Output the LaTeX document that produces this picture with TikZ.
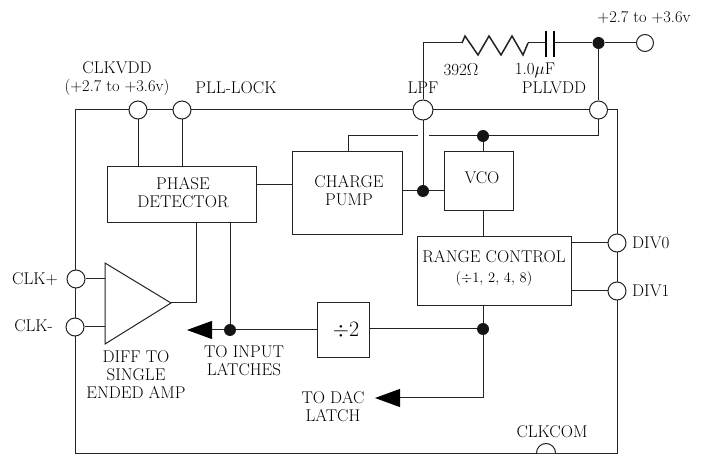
\documentclass[tikz,border=0pt]{standalone}
\usepackage{amsmath,amssymb}
\usepackage{xcolor}
\usepackage{tikz}
\usetikzlibrary{arrows.meta,calc}
\definecolor{ink}{RGB}{35,35,35}
\tikzset{
  pinnode/.style={circle,draw=ink,fill=white,line width=1pt,minimum size=18pt,inner sep=0pt},
  dotnode/.style={circle,fill=ink!60!black,minimum size=12pt,inner sep=0pt},
  blockbox/.style={draw=ink,fill=white,line width=1pt,inner sep=0pt,align=center},
  lbl/.style={text=black,font=\fontsize{17}{18}\selectfont,inner sep=0pt,align=center},
  wire/.style={draw=ink,line width=1pt},
  bigtip/.style={-{Triangle[length=25pt,width=18pt,color=black]}},
}
\begin{document}
\begin{tikzpicture}[x=1pt,y=-1pt]
\useasboundingbox (0,0) rectangle (702,454);
% chip outline
\draw[wire] (75,110) rectangle (617,453);
% blocks
\node[blockbox,minimum width=149pt,minimum height=56pt] (phase) at (181.5,195){};
\node[blockbox,minimum width=110pt,minimum height=83pt] (pump) at (347,193.5){};
\node[blockbox,minimum width=69pt,minimum height=59pt] (vco) at (478.5,181.5){};
\node[blockbox,minimum width=154pt,minimum height=69pt] (range) at (494,271.5){};
\node[blockbox,minimum width=52pt,minimum height=55pt] (divtwo) at (343,330.5){};
\node[lbl] at (183,193){PHASE\\DETECTOR};
\node[lbl] at (349,191){CHARGE\\PUMP};
\node[lbl] at (482,178){VCO};
\node[lbl] at (494,268){RANGE CONTROL\\[2pt]{\fontsize{14.5}{15}\selectfont($\div$1, 2, 4, 8)}};
\node[lbl,font=\fontsize{22}{23}\selectfont] at (346,330){$\div$2};
% amplifier
\coordinate (ampa) at (105,263);
\coordinate (ampb) at (105,344);
\coordinate (ampout) at (171,303);
\draw[wire,fill=white,line join=miter] (ampa) -- (ampout) -- (ampb) -- cycle;
% pins
\node[pinnode] (clkvdd) at (138,110){};
\node[pinnode] (lock) at (182,110){};
\node[pinnode,minimum size=20pt] (lpf) at (423,110){};
\node[pinnode] (pllvdd) at (598.5,110){};
\node[pinnode,minimum size=17pt] (supply) at (645,43){};
\node[pinnode] (clkp) at (76,279){};
\node[pinnode] (clkn) at (75,327){};
\node[pinnode] (divz) at (617,243){};
\node[pinnode] (divo) at (617,291){};
% dots
\node[dotnode] (dsup) at (598.5,43){};
\node[dotnode] (dbus) at (483,136){};
\node[dotnode] (dlpf) at (423,191){};
\node[dotnode] (dlatch) at (230,330){};
\node[dotnode] (drange) at (483,329){};
% supply branch
\coordinate (rleft) at (462,43);
\coordinate (rright) at (528,43);
\coordinate (capa) at (546,43);
\coordinate (capb) at (554,43);
\draw[wire] (lpf.north) |- (rleft);
\draw[draw=ink,line width=1.5pt,line join=miter] (rleft) -- (465,36) -- (478,55) -- (489,36) -- (501,55) -- (512,36) -- (523,55) -- (rright);
\draw[wire] (rright) -- (capa);
\draw[draw=black,line width=2.6pt] ($(capa)+(0,-12)$) -- ($(capa)+(0,14)$);
\draw[draw=black,line width=2.6pt] ($(capb)+(0,-12)$) -- ($(capb)+(0,14)$);
\draw[wire] (capb) -- (dsup) -- (supply);
\draw[wire] (dsup) -- (pllvdd);
% bus under the top edge
\coordinate (busend) at (348,136);
\coordinate (gapr) at (429,136);
\coordinate (gapl) at (418,136);
\draw[wire] (pllvdd.south) |- (dbus);
\draw[wire] (dbus) -- (gapr);
\draw[wire] (gapl) -- (busend) -- (busend |- pump.north);
\draw[wire] (dbus) -- (dbus |- vco.north);
% inside connections
\coordinate (phasepump) at (256,185);
\draw[wire] (lpf.south) -- (dlpf);
\draw[wire] (pump.east |- dlpf) -- (dlpf) -- (vco.west |- dlpf);
\draw[wire] (phasepump) -- (pump.west |- phasepump);
\draw[wire] (clkvdd.south) -- (clkvdd |- phase.north);
\draw[wire] (lock.south) -- (lock |- phase.north);
\coordinate (ampdrop) at (196,223);
\draw[wire] (ampdrop) |- (ampout);
\draw[wire] (dlatch |- phase.south) -- (dlatch);
\draw[wire] (clkp.east) -- (ampa |- clkp);
\draw[wire] (clkn.east) -- (ampa |- clkn);
\draw[wire] (vco.south -| dbus) -- (range.north -| dbus);
\draw[wire] (drange) -- (divtwo.east |- drange);
\draw[wire] (divtwo.west |- dlatch) -- (dlatch);
\draw[wire] (range.south -| drange) -- (drange);
\coordinate (inlatch) at (187,330);
\coordinate (daclatch) at (375,398);
\draw[wire,bigtip] (dlatch) -- (inlatch);
\draw[wire,bigtip] (drange) |- (daclatch);
\draw[wire] (range.east |- divz) -- (divz);
\draw[wire] (range.east |- divo) -- (divo);
% clkcom half pin
\draw[wire,fill=white] (536.5,453) arc[start angle=180,end angle=360,radius=9.5];
% labels
\node[lbl] at (117,79){CLKVDD\\{\fontsize{16.4}{18}\selectfont(+2.7 to +3.6v)}};
\node[lbl] at (236,88){PLL-LOCK};
\node[lbl] at (423,88){LPF};
\node[lbl] at (554,88){PLLVDD};
\node[lbl] at (461,70){392$\Omega$};
\node[lbl] at (535,70){1.0$\mu$F};
\node[lbl,font=\fontsize{16.4}{18}\selectfont] at (644,17){+2.7 to +3.6v};
\node[lbl,anchor=east] at (58,279){CLK+};
\node[lbl,anchor=east] at (53,326){CLK-};
\node[lbl,anchor=west] at (632,243){DIV0};
\node[lbl,anchor=west] at (632,291){DIV1};
\node[lbl] at (136,375){DIFF TO\\SINGLE\\ENDED AMP};
\node[lbl] at (244,361){TO INPUT\\LATCHES};
\node[lbl] at (333,407){TO DAC\\LATCH};
\node[lbl] at (552,432){CLKCOM};
\end{tikzpicture}
\end{document}
